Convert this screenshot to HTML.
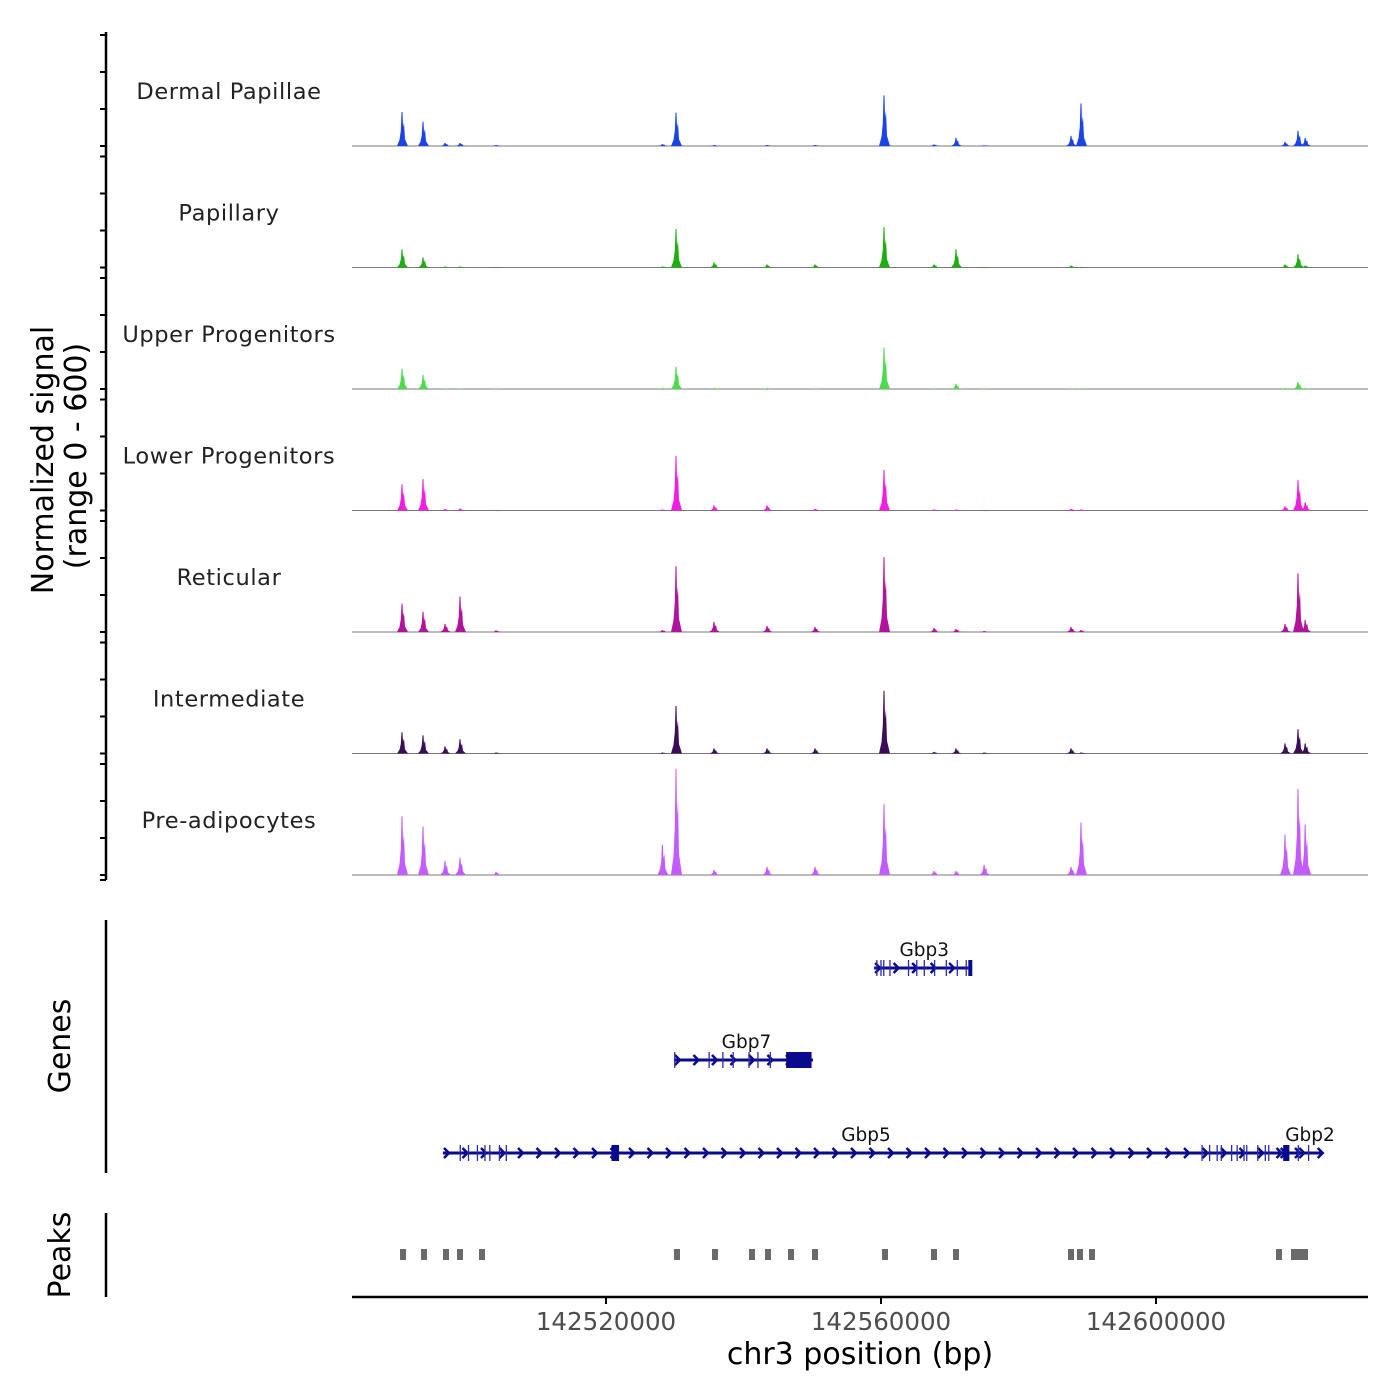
<!DOCTYPE html>
<html><head><meta charset="utf-8">
<style>
html,body{margin:0;padding:0;background:#fff;}
svg{display:block;font-family:"DejaVu Sans","Liberation Sans",sans-serif;}
</style></head>
<body>
<svg id="chart" width="1400" height="1400" viewBox="0 0 1400 1400">
  <g id="tracks"></g>
  <g id="genes"></g>
  <g id="peaks"></g>
  <g id="axes"></g>
</svg>
<script>
const NS = "http://www.w3.org/2000/svg";
const xDomain = [142483055, 142630836];
const xTicks = [142520000, 142560000, 142600000];
const trackNames = ["Dermal Papillae","Papillary","Upper Progenitors","Lower Progenitors","Reticular","Intermediate","Pre-adipocytes"];
const trackColors = ["#1a44e6","#1fae12","#4ddb4d","#f01ee0","#b0149c","#3b0f58","#c25cff"];
const peakPositions = [142490328,142493383,142496582,142498764,142504000,142528200,142530182,142535709,142543418,142550400,142560436,142567709,142570909,142575000,142587636,142589091,142618764,142620655,142621700];
// signal values (0-600) per track, aligned with peakPositions
const sigDermal = [168,120,15,15,5,10,165,5,5,5,250,8,40,4,50,210,20,75,40];
const sigPapillary = [90,50,5,5,3,5,190,25,15,15,200,15,90,3,10,3,15,65,10];
const sigUpper = [100,70,3,3,2,5,110,5,5,3,205,3,25,2,3,3,5,35,5];
const sigLower = [130,155,8,10,3,5,270,25,25,8,200,5,5,3,8,5,20,150,40];
const sigReticular = [140,100,40,175,8,10,325,50,30,25,370,20,15,5,25,10,40,290,60];
const sigIntermediate = [105,90,35,70,5,5,235,25,25,25,310,8,25,5,25,5,50,120,50];
const sigPreadipo = [290,240,70,85,15,150,525,25,40,40,350,20,20,50,40,260,200,425,250];
const trackSignals = [sigDermal,sigPapillary,sigUpper,sigLower,sigReticular,sigIntermediate,sigPreadipo];
const peakRegions = [142490475,142493530,142496727,142498764,142501964,142530327,142535855,142541237,142543564,142546909,142550400,142560582,142567709,142570909,142587636,142588945,142590691,142617891,142620073,142620800,142621673];
const geneNames = ["Gbp3","Gbp7","Gbp5","Gbp2"];
const geneStarts = [142559000,142529880,142496290,142618000];
const geneEnds = [142572710,142550110,142622500,142624300];
const geneRows = [0,1,2,2];
const geneExons = [
  [142559400,142560000,142560400,142561300,142564000,142565200,142566300,142567800,142569500,142571100,142572400],
  [142530000,142535000,142537000,142538500,142540800,142542100,142543900,142546600,142547500,142548500,142549500],
  [142498800,142500000,142501300,142502400,142503100,142504500,142505500,142521200,142521500],
  [142606700,142607800,142608900,142609500,142611000,142611800,142612800,142613200,142614800,142615900,142616400,142618700,142619200,142620700,142622200]
];
const geneBoxes = [[142572700,142572750],[142546200,142549900],[142520800,142521900],[142618500,142619400]];

const X0 = 352, X1 = 1368;
function xs(v){ return X0 + (v - xDomain[0]) / (xDomain[1] - xDomain[0]) * (X1 - X0); }
const baseY0 = 146, trackH = 121.5;
function ys(v, i){ return (baseY0 + i*trackH) - v / 600 * 121.5; }

function mk(tag, attrs, parent){
  const e = document.createElementNS(NS, tag);
  for (const k in attrs) e.setAttribute(k, attrs[k]);
  parent.appendChild(e);
  return e;
}

const gT = document.getElementById("tracks");
trackNames.forEach((name, i) => {
  const b = baseY0 + i*trackH;
  const g = mk("g", {}, gT);
  
  
  const lbl = mk("text", {x:229, y:b-47, "text-anchor":"middle", "font-size":"22.5", fill:"#222", "letter-spacing":"0.6"}, g);
  lbl.textContent = name;
  
  
  const bl = mk("line", {x1:X0, x2:X1, y1:b, y2:b, stroke:"#777", "stroke-width":1}, g);
  
  
  trackSignals[i].forEach((v, j) => {
    const x = xs(peakPositions[j]);
    const top = ys(v, i);
    const h = b - top;
    const pts = [[x-5,b],[x-2.5,b-h*0.18],[x-1.2,b-h*0.45],[x-0.5,top],[x+0.5,top],[x+1,b-h*0.55],[x+2,b-h*0.7],[x+3,b-h*0.2],[x+6,b]];
    const p = mk("polygon", {points: pts.map(q=>q[0].toFixed(1)+","+q[1].toFixed(1)).join(" "), fill: trackColors[i]}, g);
    
    
  });
});

const gG = document.getElementById("genes");
const rowY = [968, 1060, 1153];
const navy = "#0a0a8c";
geneNames.forEach((name, i) => {
  const y = rowY[geneRows[i]];
  const g = mk("g", {}, gG);
  
  
  const xa = xs(geneStarts[i]), xb = xs(geneEnds[i]);
  mk("line", {x1:xa, x2:xb, y1:y, y2:y, stroke:navy, "stroke-width":3}, g);
  for (let x = xa + 4; x < xb - 2; x += 18.5) {
    mk("polyline", {points:`${x-3},${y-5} ${x+2},${y} ${x-3},${y+5}`, fill:"none", stroke:navy, "stroke-width":2.5}, g);
  }
  geneExons[i].forEach(e => {
    const x = xs(e);
    mk("line", {x1:x, x2:x, y1:y-8, y2:y+8, stroke:"#2a2ab0", "stroke-width":1.3}, g);
  });
  const bx = geneBoxes[i];
  mk("rect", {x:xs(bx[0]), y:y-8, width:Math.max(4, xs(bx[1])-xs(bx[0])), height:16, fill:navy}, g);
  const cx = name === "Gbp5" ? 866 : (name === "Gbp2" ? 1310 : (xa+xb)/2 + 3);
  const t = mk("text", {x:cx, y:y-12, "text-anchor":"middle", "font-size":"18.5", fill:"#111"}, g);
  t.textContent = name;
  
  
});

const gP = document.getElementById("peaks");
peakRegions.forEach(p => {
  const r = mk("rect", {x:xs(p)-3, y:1249, width:6, height:11, fill:"#6a6a6a"}, gP);
  
  
});

const gA = document.getElementById("axes");
function line(x1,y1,x2,y2,w,name){
  const l = mk("line", {x1,y1,x2,y2,stroke:"#000","stroke-width":w}, gA);
  
  
}
line(106,32,106,880,2.5,"signal-y-axis");
for (let i = 0; i < 7; i++) {
  const b = baseY0 + i*trackH;
  [0,37,74,111].forEach(d => line(100, b-d, 106, b-d, 2, "y-tick"));
}
line(100,880,106,880,2,"y-tick");
line(106,920,106,1173,2.5,"genes-y-axis");
line(106,1213,106,1297,2.5,"peaks-y-axis");
line(352,1297,1368,1297,2.5,"x-axis");
xTicks.forEach(t => {
  const x = xs(t);
  line(x,1297,x,1304,2,"x-tick");
  const tx = mk("text", {x:x, y:1330, "text-anchor":"middle", "font-size":"24.5", fill:"#4d4d4d"}, gA);
  tx.textContent = String(t);
  
  
});
const xt = mk("text", {x:860, y:1364, "text-anchor":"middle", "font-size":"30", fill:"#000"}, gA);
xt.textContent = "chr3 position (bp)";


function vtext(txt, x, y, name){
  const t = mk("text", {x:0, y:0, transform:`translate(${x},${y}) rotate(-90)`, "text-anchor":"middle", "font-size":"30", fill:"#000"}, gA);
  t.textContent = txt;
  
  
}
vtext("Normalized signal", 53, 460, "y-axis-title");
vtext("(range 0 - 600)", 86, 456, "y-axis-subtitle");
vtext("Genes", 70, 1046, "genes-axis-title");
vtext("Peaks", 70, 1255, "peaks-axis-title");
</script>
</body></html>
